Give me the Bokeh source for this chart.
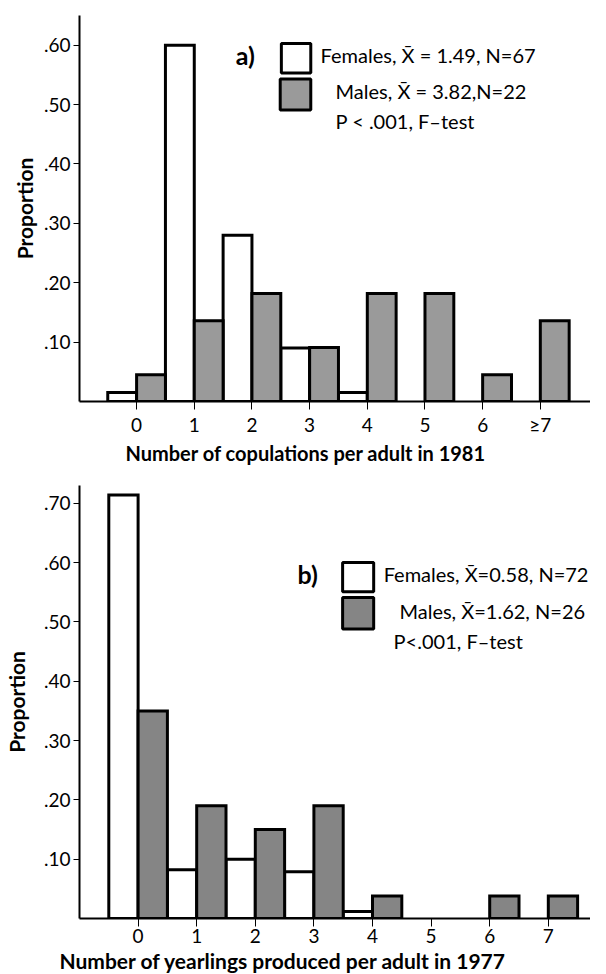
from bokeh.plotting import figure
from bokeh.layouts import column
from bokeh.models import FixedTicker, Label, BoxAnnotation, Range1d, Title
from bokeh.embed import file_html
from bokeh.resources import INLINE

# ---------- data: panel a ----------
a_counts = [0, 1, 2, 3, 4, 5, 6, 7]
a_tick_labels = ["0", "1", "2", "3", "4", "5", "6", "\u22657"]
a_females = [0.015, 0.60, 0.28, 0.09, 0.015, 0.0, 0.0, 0.0]
a_males = [0.045, 0.136, 0.182, 0.091, 0.182, 0.182, 0.045, 0.136]
a_yticks = [0.10, 0.20, 0.30, 0.40, 0.50, 0.60]
a_ytick_labels = [".10", ".20", ".30", ".40", ".50", ".60"]

# ---------- data: panel b ----------
b_counts = [0, 1, 2, 3, 4, 5, 6, 7]
b_tick_labels = ["0", "1", "2", "3", "4", "5", "6", "7"]
b_females = [0.714, 0.082, 0.10, 0.079, 0.012, 0.0, 0.0, 0.0]
b_males = [0.35, 0.19, 0.15, 0.19, 0.038, 0.0, 0.038, 0.038]
b_yticks = [0.10, 0.20, 0.30, 0.40, 0.50, 0.60, 0.70]
b_ytick_labels = [".10", ".20", ".30", ".40", ".50", ".60", ".70"]

FONT = "Lato"
TICK_FS = "19px"
LEG_FS = "20px"


def make_panel(counts, tick_labels, fem, mal, yticks, ylabels, xtitle,
               xtitle_offset, xr, yr, height, mb_left, mb_top, mb_bottom,
               male_fill, lbl_std, title_fs, title_std, ytitle_std):
    p = figure(width=590, height=height, output_backend="svg",
               toolbar_location=None, x_range=Range1d(*xr),
               y_range=Range1d(*yr), min_border_left=mb_left,
               min_border_right=0, min_border_top=mb_top,
               min_border_bottom=mb_bottom)
    p.outline_line_color = None
    p.xgrid.visible = False
    p.ygrid.visible = False
    p.background_fill_color = "white"

    fx = [c - 0.25 for c, v in zip(counts, fem) if v > 0]
    fv = [v for v in fem if v > 0]
    mx = [c + 0.25 for c, v in zip(counts, mal) if v > 0]
    mv = [v for v in mal if v > 0]
    p.vbar(x=fx, top=fv, bottom=0, width=0.5, fill_color="white",
           line_color="black", line_width=3, line_join="miter")
    p.vbar(x=mx, top=mv, bottom=0, width=0.5, fill_color=male_fill,
           line_color="black", line_width=3, line_join="miter")

    xa = p.xaxis[0]
    xa.ticker = FixedTicker(ticks=counts)
    xa.major_label_overrides = {c: t for c, t in zip(counts, tick_labels)}
    xa.minor_tick_line_color = None
    xa.major_tick_out = 8
    xa.major_tick_in = 0
    xa.major_tick_line_width = 1
    xa.axis_line_width = 2
    xa.major_label_text_font = FONT
    xa.major_label_text_font_size = TICK_FS
    xa.major_label_text_color = "black"
    xa.major_label_standoff = lbl_std

    # x-axis title as a title panel below, shifted left as in the original
    p.add_layout(Title(text=xtitle, align="left", offset=xtitle_offset,
                       text_font=FONT, text_font_style="bold",
                       text_font_size=title_fs, text_color="black",
                       standoff=title_std), "below")

    ya = p.yaxis[0]
    ya.ticker = FixedTicker(ticks=yticks)
    ya.major_label_overrides = {t: l for t, l in zip(yticks, ylabels)}
    ya.minor_tick_line_color = None
    ya.major_tick_out = 6
    ya.major_tick_in = 0
    ya.major_tick_line_width = 1
    ya.axis_line_width = 2
    ya.major_label_text_font = FONT
    ya.major_label_text_font_size = TICK_FS
    ya.major_label_text_color = "black"
    ya.major_label_standoff = 3
    ya.axis_label = "Proportion"
    ya.axis_label_text_font = FONT
    ya.axis_label_text_font_style = "bold"
    ya.axis_label_text_font_size = "21px"
    ya.axis_label_text_color = "black"
    ya.axis_label_standoff = ytitle_std
    return p


def add_legend(p, tag, tag_xy, fbox, mbox, texts, male_fill):
    p.add_layout(Label(x=tag_xy[0], y=tag_xy[1], text=tag, text_font=FONT,
                       text_font_style="bold", text_font_size="25px",
                       text_baseline="middle", text_color="black"))
    p.add_layout(BoxAnnotation(left=fbox[0], right=fbox[1], bottom=fbox[2],
                               top=fbox[3], fill_color="white", fill_alpha=1,
                               line_color="black", line_alpha=1, line_width=3,
                               level="overlay"))
    p.add_layout(BoxAnnotation(left=mbox[0], right=mbox[1], bottom=mbox[2],
                               top=mbox[3], fill_color=male_fill, fill_alpha=1,
                               line_color="black", line_alpha=1, line_width=3,
                               level="overlay"))
    for (x, y, t) in texts:
        p.add_layout(Label(x=x, y=y, text=t, text_font=FONT,
                           text_font_size=LEG_FS, text_baseline="middle",
                           text_color="black"))


XBAR = "X\u0304"

pa = make_panel(a_counts, a_tick_labels, a_females, a_males, a_yticks,
                a_ytick_labels, "Number of copulations per adult in 1981",
                46, (-0.99, 7.87), (0, 0.65), 467, 69, 15, 66,
                "#9a9a9a", 3, "20px", 0, 4)
add_legend(pa, "a)", (1.72, 0.583), (2.51, 3.02, 0.553, 0.603),
           (2.49, 3.02, 0.491, 0.543),
           [(3.19, 0.583, "Females, " + XBAR + " = 1.49, N=67"),
            (3.45, 0.523, "Males, " + XBAR + " = 3.82,N=22"),
            (3.45, 0.472, "P < .001, F\u2013test")], "#9a9a9a")

pb = make_panel(b_counts, b_tick_labels, b_females, b_males, b_yticks,
                b_ytick_labels, "Number of yearlings produced per adult in 1977",
                -20, (-1.0, 7.72), (0, 0.73), 507, 76, 18, 56,
                "#858585", 2, "21px", 0, 12)
add_legend(pb, "b)", (2.72, 0.581), (3.49, 4.02, 0.551, 0.600),
           (3.49, 4.02, 0.488, 0.541),
           [(4.19, 0.581, "Females, " + XBAR + "=0.58, N=72"),
            (4.46, 0.518, "Males, " + XBAR + "=1.62, N=26"),
            (4.36, 0.468, "P<.001, F\u2013test")], "#858585")

layout = column(pa, pb, spacing=0)
open("out.html", "w").write(file_html(layout, INLINE))
